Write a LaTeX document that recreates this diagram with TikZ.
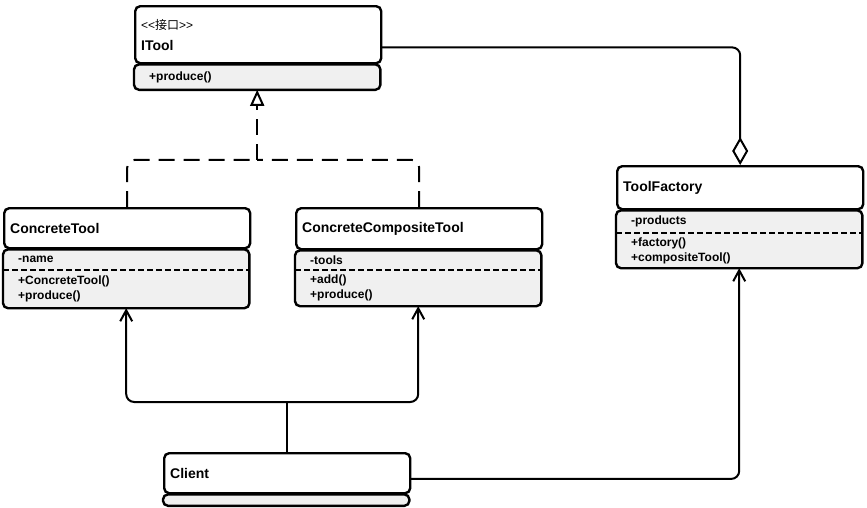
\documentclass[tikz,border=0pt]{standalone}
\usepackage{fontspec}
\setmainfont{Liberation Sans}
\newfontfamily\cjkfont{Noto Sans CJK SC}
\usetikzlibrary{positioning,arrows.meta,backgrounds,calc}
\definecolor{bodygray}{RGB}{240,240,240}
\tikzset{
	classhead/.style={draw, line width=2.4pt, rounded corners=5pt, fill=white, anchor=north west, text width=234pt, inner xsep=6pt, inner ysep=0pt, align=left, font=\bfseries\fontsize{14}{16}\selectfont},
	classpart/.style={anchor=north west, text width=216pt, inner xsep=15pt, inner ysep=0pt, align=left, font=\bfseries\fontsize{12}{15}\selectfont},
	classbody/.style={draw, line width=2.4pt, rounded corners=5pt, fill=bodygray},
	sepline/.style={line width=2pt, dash pattern=on 6pt off 3pt},
	link/.style={line width=2pt, rounded corners=8pt},
	uses/.style={link, -{Straight Barb[length=11pt, width=12pt]}},
	realize/.style={link, dash pattern=on 16pt off 9pt}
}

\begin{document}
\begin{tikzpicture}[x=1pt, y=-1pt]
		%%%%% START %%%%%
		\useasboundingbox (0, 0) rectangle (867, 507);
		
		% ITool
		\node[classhead, minimum height=57pt] (itool) at (134, 5) {{\mdseries\fontsize{12}{13}\selectfont <\kern0pt<{\cjkfont 接口}>\kern0pt>}\\[5pt]ITool};
		\node[classpart, below=0pt of itool.south west, anchor=north west, minimum height=25pt] (itool-ops) {+produce()};
		
		% ConcreteTool
		\node[classhead, minimum height=40pt] (ctool) at (3, 207) {ConcreteTool};
		\node[classpart, below=0pt of ctool.south west, anchor=north west, minimum height=20pt] (ctool-attr) {-name};
		\node[classpart, below=0pt of ctool-attr.south west, anchor=north west, minimum height=38pt] (ctool-ops) {+ConcreteTool()\\+produce()};
		
		% ConcreteCompositeTool
		\node[classhead, minimum height=41pt] (cctool) at (295, 207) {ConcreteCompositeTool};
		\node[classpart, below=0pt of cctool.south west, anchor=north west, minimum height=19pt] (cctool-attr) {-tools};
		\node[classpart, below=0pt of cctool-attr.south west, anchor=north west, minimum height=36pt] (cctool-ops) {+add()\\+produce()};
		
		% ToolFactory
		\node[classhead, minimum height=43pt] (tfactory) at (616, 165) {ToolFactory};
		\node[classpart, below=0pt of tfactory.south west, anchor=north west, minimum height=22pt] (tfactory-attr) {-products};
		\node[classpart, below=0pt of tfactory-attr.south west, anchor=north west, minimum height=35pt] (tfactory-ops) {+factory()\\+compositeTool()};
		
		% Client
		\node[classhead, minimum height=40pt] (client) at (163, 452) {Client};
		\node[classpart, below=0pt of client.south west, anchor=north west, minimum height=11pt] (client-ops) {};
		
		\begin{scope}[on background layer]
			\draw[classbody] (itool-ops.north west) rectangle (itool-ops.south east);
			\draw[classbody] (ctool-attr.north west) rectangle (ctool-ops.south east);
			\draw[classbody] (cctool-attr.north west) rectangle (cctool-ops.south east);
			\draw[classbody] (tfactory-attr.north west) rectangle (tfactory-ops.south east);
			\draw[classbody] (client-ops.north west) rectangle (client-ops.south east);
		\end{scope}
		
		\draw[sepline] (ctool-attr.south west) -- (ctool-attr.south east);
		\draw[sepline] (cctool-attr.south west) -- (cctool-attr.south east);
		\draw[sepline] (tfactory-attr.south west) -- (tfactory-attr.south east);
		
		% aggregation
		\draw[link, -{Diamond[open, length=28pt, width=16pt]}] ($(itool.north east)!0.5!(itool-ops.south east)$) -| (tfactory.north);
		
		% realization
		\coordinate (merge) at ($(itool-ops.south)+(0, 70)$);
		\draw[realize] (ctool.north) |- (merge);
		\draw[realize] (cctool.north) |- (merge);
		\draw[realize, -{Triangle[open, length=16pt, width=14pt]}] (merge) -- (itool-ops.south);
		
		% client uses
		\coordinate (split) at ($(client.north)+(0, -50)$);
		\draw[link] (client.north) -- (split);
		\draw[uses] (split) -| (ctool-ops.south);
		\draw[uses] (split) -| (cctool-ops.south);
		\draw[uses] ($(client.north east)!0.5!(client-ops.south east)$) -| (tfactory-ops.south);
		
		%%%%% END %%%%%
	\end{tikzpicture}
\end{document}
